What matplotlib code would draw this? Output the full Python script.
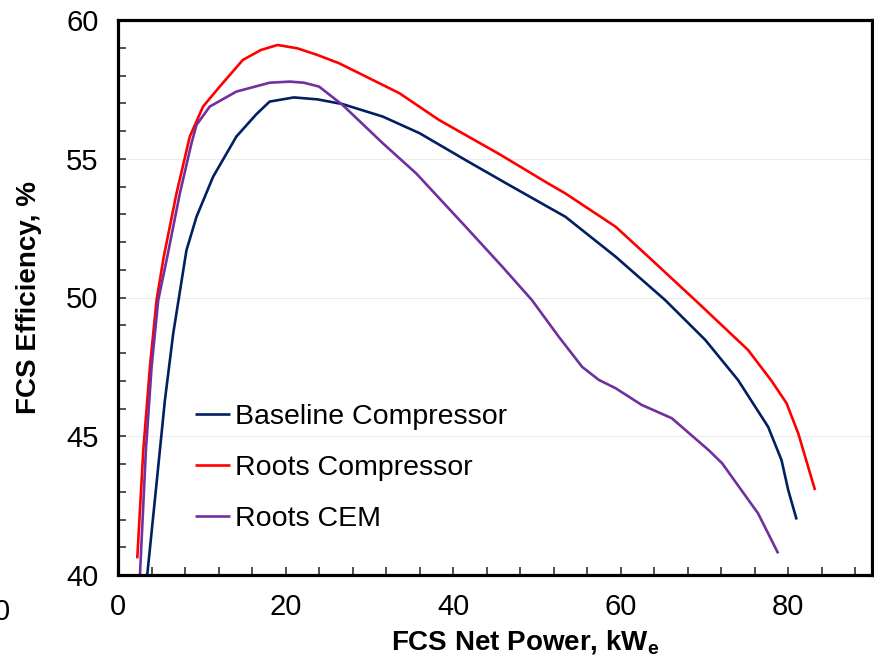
import matplotlib
matplotlib.use("Agg")
import matplotlib.pyplot as plt
from matplotlib.ticker import MultipleLocator

plt.rcParams['font.family'] = ['Liberation Sans', 'DejaVu Sans']

# FCS net power (kWe) vs. system efficiency (%)
baseline_x = [3.49, 4.6, 5.6, 6.59, 8.17, 9.37, 11.35, 14.13, 16.5, 18.1, 21.0,
              23.8, 26.8, 31.6, 36.0, 41.5, 46.3, 51.4, 53.4, 59.4, 65.3, 70.1,
              74.0, 77.6, 79.2, 80.0, 81.0]
baseline_y = [40.0, 43.3, 46.3, 48.7, 51.7, 52.91, 54.35, 55.8, 56.6, 57.06, 57.21,
              57.14, 56.97, 56.52, 55.92, 54.95, 54.12, 53.25, 52.91, 51.47, 49.91, 48.47,
              47.03, 45.34, 44.14, 43.06, 42.0]

roots_x = [2.30, 3.02, 3.81, 4.6, 5.45, 6.98, 8.57, 10.15, 12.14, 14.9, 17.06,
           19.05, 21.4, 23.8, 26.4, 33.6, 38.3, 45.5, 51.4, 53.4, 59.4, 63.3, 69.3,
           75.2, 78.0, 79.8, 81.2, 83.2]
roots_y = [40.6, 44.5, 47.5, 49.9, 51.45, 53.75, 55.8, 56.88, 57.6, 58.56, 58.92,
           59.10, 58.98, 58.74, 58.44, 57.36, 56.40, 55.17, 54.1, 53.75, 52.55, 51.47, 49.79,
           48.11, 47.0, 46.19, 45.1, 43.06]

cem_x = [2.62, 3.33, 4.01, 4.8, 5.9, 7.38, 8.77, 9.37, 10.95, 14.13, 18.1, 20.5,
         22.2, 24.0, 26.8, 31.6, 35.6, 41.5, 45.9, 49.4, 52.6, 55.4, 57.4, 59.4,
         62.5, 66.1, 70.5, 72.1, 76.4, 78.8]
cem_y = [40.0, 44.5, 47.5, 49.9, 51.5, 53.75, 55.56, 56.22, 56.88, 57.42, 57.74, 57.78,
         57.74, 57.6, 56.94, 55.56, 54.47, 52.55, 51.1, 49.91, 48.59, 47.5, 47.03, 46.73,
         46.13, 45.65, 44.50, 44.03, 42.22, 40.78]

series_labels = ["Baseline Compressor", "Roots Compressor", "Roots CEM"]
series_colors = ["#002060", "#FF0000", "#7030A0"]

x_ticks = [0, 20, 40, 60, 80]
y_ticks = [40, 45, 50, 55, 60]

fig = plt.figure(figsize=(8.74, 6.61), dpi=100)
ax = fig.add_axes([118 / 874, 86 / 661, 754 / 874, 555 / 661])

lines = []
for xs, ys, lab, col in zip([baseline_x, roots_x, cem_x],
                            [baseline_y, roots_y, cem_y],
                            series_labels, series_colors):
    ln, = ax.plot(xs, ys, color=col, lw=1.9, label=lab,
                  solid_joinstyle='round', solid_capstyle='butt')
    lines.append(ln)

ax.set_xlim(0, 90)
ax.set_ylim(40, 60)
ax.set_xticks(x_ticks)
ax.set_yticks(y_ticks)
ax.xaxis.set_minor_locator(MultipleLocator(4))
ax.yaxis.set_minor_locator(MultipleLocator(1))

for yv in y_ticks[1:-1]:
    ax.axhline(yv, color="#ececec", lw=0.8, zorder=0)

ax.tick_params(axis='both', which='both', direction='in', width=1.2,
               length=6, labelsize=21, color='#333333')
ax.tick_params(axis='x', which='both', pad=13)
ax.tick_params(axis='y', which='both', pad=14)
ax.tick_params(axis='both', which='both', top=False, right=False)

for sp in ax.spines.values():
    sp.set_linewidth(2.3)
    sp.set_color('black')

ax.set_xlabel("FCS Net Power, kW$_\\mathregular{e}$", fontsize=20,
              fontweight='bold')
ax.xaxis.set_label_coords(0.54, -0.122, transform=ax.transAxes)
ax.xaxis.label.set_va('center')
ax.set_ylabel("FCS Efficiency, %", fontsize=20, fontweight='bold', labelpad=17)

leg = ax.legend(handles=lines, loc='upper left', bbox_to_anchor=(0.102, 0.309),
                frameon=False, fontsize=20.5, handlelength=1.25, handletextpad=0.15,
                labelspacing=0.88, borderaxespad=0, borderpad=0)

fig.text(2 / 874, 1 - 612 / 661, "0", fontsize=21, ha='center', va='center')

fig.savefig("out.png", dpi=100)
